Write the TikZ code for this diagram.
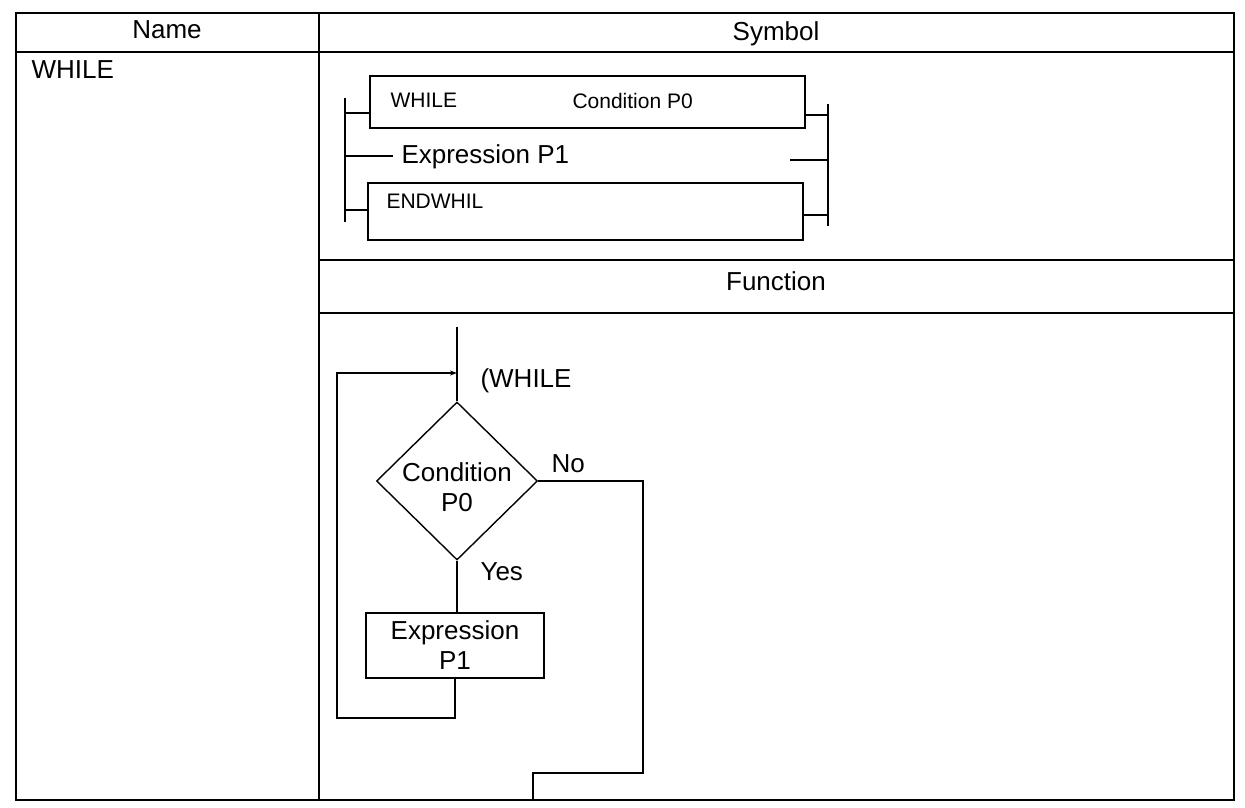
\documentclass[tikz,border=0pt]{standalone}
\usepackage{fontspec}
\setmainfont{Liberation Sans}
\usetikzlibrary{positioning, shapes.geometric, arrows.meta}
\tikzset{
    base/.style={font=\fontsize{26}{30}\selectfont},
    small/.style={font=\fontsize{21}{25}\selectfont},
    cell/.style={base, anchor=base},
    stmtbox/.style={draw, line width=1.4pt, rectangle, inner sep=0pt},
    decision/.style={draw, line width=1.4pt, diamond, aspect=1, inner sep=0pt, minimum width=161pt, minimum height=158pt},
    arrow/.style={-{Stealth[length=7pt, width=5pt]}, line width=1.4pt},
    line/.style={draw, line width=1.4pt},
    rule/.style={draw, line width=1.6pt}
}

\begin{document}
\begin{tikzpicture}[x=1pt, y=-1pt]
    \useasboundingbox (0,0) rectangle (1245,808);

    % Table frame
    \draw[line width=2.2pt] (16,13) rectangle (1234,800);
    \draw[rule] (16,52) -- (1234,52);
    \draw[rule] (319,13) -- (319,800);
    \draw[rule] (319,260) -- (1234,260);
    \draw[rule] (319,313) -- (1234,313);

    % Headers
    \node[cell] (hname) at (167,39) {Name};
    \node[cell] (hsym) at (776,41) {Symbol};
    \node[cell] (hfunc) at (776,290) {Function};
    \node[base, anchor=base west] (name) at (28,78) {WHILE};

    % Symbol: ladder form
    \coordinate (lbt) at (345,98);
    \coordinate (lbb) at (345,222);
    \coordinate (rbt) at (828,104);
    \coordinate (rbb) at (828,226);
    \draw[line] (lbt) -- (lbb);
    \draw[line] (rbt) -- (rbb);

    \node[stmtbox, minimum width=435pt, minimum height=52pt] (sym1) at (587.5,102) {};
    \node[small, anchor=base west] (s1a) at (387,107) {WHILE};
    \node[small, anchor=base west] (s1b) at (569,108) {Condition P0};
    \draw[line] (lbt |- 0,113) -- (sym1.west |- 0,113);
    \draw[line] (sym1.east |- 0,115) -- (rbt |- 0,115);

    \coordinate (xp) at (393,156);
    \coordinate (xq) at (790,160);
    \node[base, anchor=base west] (symexpr) at (398,163) {Expression P1};
    \draw[line] (lbt |- xp) -- (xp);
    \draw[line] (xq) -- (rbt |- xq);

    \node[stmtbox, minimum width=435pt, minimum height=57pt] (sym2) at (585.5,211.5) {};
    \node[small, anchor=base west] (s2a) at (383,208) {ENDWHIL};
    \draw[line] (lbt |- 0,210) -- (sym2.west |- 0,210);
    \draw[line] (sym2.east |- 0,215) -- (rbt |- 0,215);

    % Function: flowchart
    \coordinate (entry) at (457,327);
    \node[decision] (cond) at (457,481) {};
    \node[base, align=center] (condtxt) at ([yshift=-6pt]cond.center) {Condition\\P0};
    \node[stmtbox, minimum width=178pt, minimum height=65pt] (expr) at (455,645.5) {};
    \node[base, align=center] (exprtxt) at (expr.center) {Expression\\P1};

    \draw[line] (entry) -- (cond.north);
    \draw[line] (cond.south) -- (cond.south |- expr.north);

    \coordinate (back) at (337,718);
    \coordinate (join) at (457,373);
    \draw[arrow] (expr.south) |- (back) |- (join);

    \coordinate (nturn) at (643,773);
    \coordinate (exit) at (533,800);
    \draw[line] (cond.east) -| (nturn) -| (exit);

    \node[base, anchor=base west] (lwhile) at (477,387) {(WHILE};
    \node[base, anchor=base west] (lno) at (548,472) {No};
    \node[base, anchor=base west] (lyes) at (477,580) {Yes};
\end{tikzpicture}
\end{document}
